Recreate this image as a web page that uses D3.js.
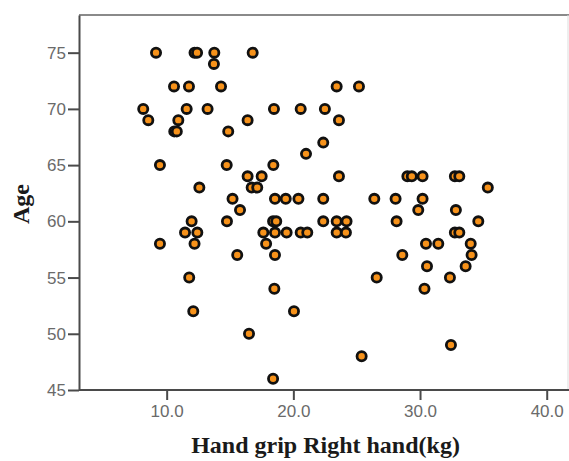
<!DOCTYPE html>
<html>
<head>
<meta charset="utf-8">
<script src="https://cdn.jsdelivr.net/npm/d3@7"></script>
<style>
    body { margin: 0; background: #fff; }
    #chart svg { display: block; }
</style>
</head>
<body>
<div id="chart"></div>
<script>
// Data (one entry per point)
const gripRight = [
    9.16, 12.2, 12.4, 13.76, 16.79,
    13.73,
    10.58, 11.76, 14.29, 23.42, 25.18,
    8.15, 11.58, 13.23, 18.47, 20.58, 22.49,
    8.55, 10.92, 16.39, 23.6,
    10.6, 10.8, 14.86,
    22.36,
    21.0,
    9.47, 14.74, 18.42,
    16.39, 17.5, 23.6, 29.0, 29.35, 30.2, 32.75, 33.1,
    12.58, 16.71, 17.15, 35.35,
    15.2, 18.55, 19.4, 20.4, 22.36, 26.39, 28.07, 30.2,
    15.79, 29.86, 32.83,
    11.97, 14.76, 18.4, 18.65, 22.36, 23.42, 24.2, 28.15, 34.6,
    11.45, 12.42, 17.63, 18.55, 19.47, 20.58, 21.1, 23.42, 24.15, 32.75, 33.1,
    9.47, 12.2, 17.85, 30.47, 31.44, 34.0,
    15.57, 18.55, 28.6, 34.07,
    30.55, 33.6,
    11.78, 26.58, 32.36,
    18.5, 30.35,
    12.1, 20.05,
    16.5,
    32.44,
    25.39,
    18.4
];
const age = [
    75, 75, 75, 75, 75,
    74,
    72, 72, 72, 72, 72,
    70, 70, 70, 70, 70, 70,
    69, 69, 69, 69,
    68, 68, 68,
    67,
    66,
    65, 65, 65,
    64, 64, 64, 64, 64, 64, 64, 64,
    63, 63, 63, 63,
    62, 62, 62, 62, 62, 62, 62, 62,
    61, 61, 61,
    60, 60, 60, 60, 60, 60, 60, 60, 60,
    59, 59, 59, 59, 59, 59, 59, 59, 59, 59, 59,
    58, 58, 58, 58, 58, 58,
    57, 57, 57, 57,
    56, 56,
    55, 55, 55,
    54, 54,
    52, 52,
    50,
    49,
    48,
    46
];
const xTicks = [10, 20, 30, 40];
const yTicks = [45, 50, 55, 60, 65, 70, 75];
const xDomain = [3.08, 41.68];
const yDomain = [45, 78.35];

function draw() {
    const dataset = gripRight.map((g, i) => ({ grip: g, age: age[i] }));

    // Dimension
    let dimensions = {
        width: 569,
        height: 461,
        left: 79,
        right: 568,
        top: 15,
        bottom: 390,
    };

    const svg = d3.select('#chart')
        .append('svg')
        .attr('width', dimensions.width)
        .attr('height', dimensions.height);

    // Scales
    const xScale = d3.scaleLinear()
        .domain(xDomain)
        .range([dimensions.left, dimensions.right]);

    const yScale = d3.scaleLinear()
        .domain(yDomain)
        .range([dimensions.bottom, dimensions.top]);

    // Frame (top and right)
    svg.append('line')
        .attr('x1', dimensions.left).attr('x2', dimensions.width)
        .attr('y1', dimensions.top).attr('y2', dimensions.top)
        .attr('stroke', '#8a8a8a')
        .attr('stroke-width', 2);
    svg.append('line')
        .attr('x1', dimensions.right).attr('x2', dimensions.right)
        .attr('y1', dimensions.top).attr('y2', dimensions.bottom)
        .attr('stroke', '#dddddd')
        .attr('stroke-width', 1);

    // Axis
    const xAxisGroup = svg.append('g')
        .attr('transform', `translate(0, ${dimensions.bottom})`);
    const xAxis = d3.axisBottom(xScale)
        .tickValues(xTicks)
        .tickFormat(d3.format('.1f'))
        .tickSize(10)
        .tickPadding(5)
        .tickSizeOuter(0);
    xAxisGroup.call(xAxis);
    xAxisGroup.select('.domain')
        .attr('d', `M${dimensions.left},0H${dimensions.width}`);

    const yAxisGroup = svg.append('g')
        .attr('transform', `translate(${dimensions.left}, 0)`);
    const yAxis = d3.axisLeft(yScale)
        .tickValues(yTicks)
        .tickSize(11)
        .tickPadding(2)
        .tickSizeOuter(0);
    yAxisGroup.call(yAxis);

    [xAxisGroup, yAxisGroup].forEach(g => {
        g.select('.domain')
            .attr('stroke', '#4a4a4a')
            .attr('stroke-width', 2);
        g.selectAll('.tick line')
            .attr('stroke', '#4a4a4a')
            .attr('stroke-width', 2);
        g.selectAll('.tick text')
            .attr('fill', '#6a6a6a')
            .style('font-family', 'Arial, "Liberation Sans", sans-serif')
            .style('font-size', '17px');
    });

    // Axis titles
    svg.append('text')
        .attr('x', (dimensions.left + dimensions.right) / 2 + 2)
        .attr('y', 453)
        .attr('text-anchor', 'middle')
        .style('font-family', '"Times New Roman", "Liberation Serif", serif')
        .style('font-weight', 'bold')
        .style('font-size', '24px')
        .attr('fill', '#1a1a1a')
        .text('Hand grip Right hand(kg)');

    svg.append('text')
        .attr('transform', 'translate(29, 204) rotate(-90)')
        .attr('text-anchor', 'middle')
        .style('font-family', '"Times New Roman", "Liberation Serif", serif')
        .style('font-weight', 'bold')
        .style('font-size', '24px')
        .attr('fill', '#1a1a1a')
        .text('Age');

    // Draw Points
    svg.append('g')
        .classed('points', true)
        .selectAll('circle')
        .data(dataset)
        .join('circle')
        .attr('cx', d => xScale(d.grip))
        .attr('cy', d => yScale(d.age))
        .attr('r', 4.6)
        .attr('fill', '#f7921a')
        .attr('stroke', '#111')
        .attr('stroke-width', 2.8);
}

draw();
</script>
</body>
</html>
